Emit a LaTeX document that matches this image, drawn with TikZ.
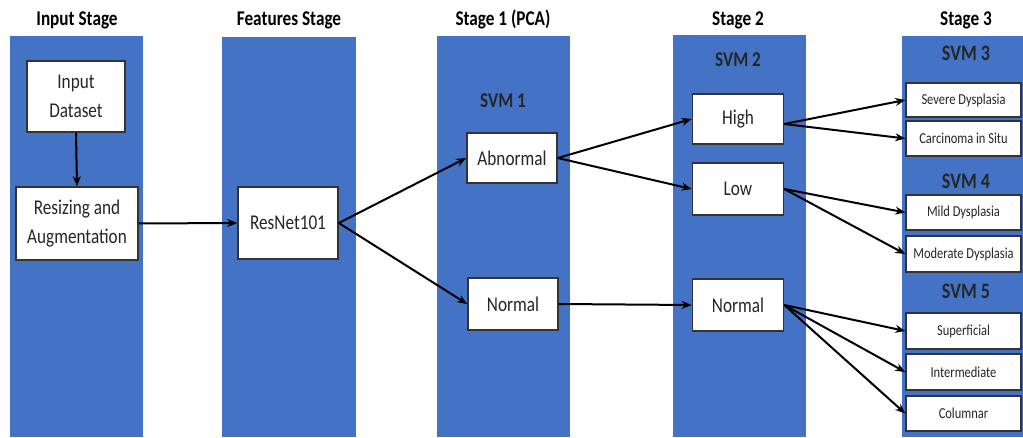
\documentclass[tikz,border=0pt]{standalone}
\usepackage{fontspec}
\setmainfont{Carlito}
\usetikzlibrary{arrows.meta}
\definecolor{colblue}{RGB}{68,114,196}
\definecolor{inktext}{RGB}{38,38,38}
% slightly condensed lettering
\newcommand\nx[1]{\scalebox{0.86}[1.05]{#1}}
\tikzset{
  column/.style={fill=colblue, draw=none},
  heading/.style={anchor=base, font=\fontsize{20}{24}\selectfont\bfseries, text=black, inner sep=0pt},
  svmlabel/.style={font=\fontsize{20}{24}\selectfont\bfseries, text=black!85, inner sep=0pt},
  bigbox/.style={draw=black!80, line width=1.6pt, fill=white, align=center, inner sep=0pt,
    text=inktext, font=\fontsize{20}{29}\selectfont},
  smallbox/.style={draw=black!80, line width=1.5pt, fill=white, inner sep=0pt,
    minimum width=115pt, text=inktext, font=\fontsize{14.5}{17}\selectfont},
  link/.style={line width=2pt, -{Stealth[length=10pt,width=8pt]}}
}
\begin{document}
\begin{tikzpicture}[x=1pt,y=-1pt]
\useasboundingbox (0,0) rectangle (1023,438);
\fill[white] (0,0) rectangle (1023,438);

% stage columns
\fill[column] (10,36) rectangle (143,437);
\fill[column] (222,37) rectangle (356,437);
\fill[column] (437,36) rectangle (570,437);
\fill[column] (673,35) rectangle (806,437);
\fill[column] (902,36) rectangle (1023,437);

% headings
\node[heading] (h1) at (77,26) {\nx{Input Stage}};
\node[heading] (h2) at (289,26) {\nx{Features Stage}};
\node[heading] (h3) at (503,26) {\nx{Stage 1 (PCA)}};
\node[heading] (h4) at (738,26) {\nx{Stage 2}};
\node[heading] (h5) at (966,26) {\nx{Stage 3}};

% input and feature stages
\node[bigbox, minimum width=98pt, minimum height=71pt] (inp) at (76,96.5) {\nx{Input}\\\nx{Dataset}};
\node[bigbox, minimum width=122pt, minimum height=73pt] (rsz) at (77,223.5) {\nx{Resizing and}\\\nx{Augmentation}};
\node[bigbox, minimum width=100pt, minimum height=72pt] (res) at (288,223) {\nx{ResNet101}};

% stage 1
\node[svmlabel] (svm1) at (503,101) {\nx{SVM 1}};
\node[bigbox, minimum width=90pt, minimum height=50pt] (abn) at (512,158) {\nx{Abnormal}};
\node[bigbox, minimum width=90pt, minimum height=52pt] (nor1) at (513,304) {\nx{Normal}};

% stage 2
\node[svmlabel] (svm2) at (738,60) {\nx{SVM 2}};
\node[bigbox, minimum width=91pt, minimum height=50pt] (high) at (738,119) {\nx{High}};
\node[bigbox, minimum width=91pt, minimum height=52pt] (low) at (738,189) {\nx{Low}};
\node[bigbox, minimum width=91pt, minimum height=52pt] (nor2) at (738,305) {\nx{Normal}};

% stage 3
\node[svmlabel, font=\fontsize{21}{24}\selectfont\bfseries] (svm3) at (966,53) {\nx{SVM 3}};
\node[smallbox, minimum height=34pt] (sev) at (963.5,100) {\nx{Severe Dysplasia}};
\node[smallbox, minimum height=35pt] (car) at (963.5,138.5) {\nx{Carcinoma in Situ}};
\node[svmlabel, font=\fontsize{21}{24}\selectfont\bfseries] (svm4) at (966,181) {\nx{SVM 4}};
\node[smallbox, minimum height=35pt] (mild) at (963.5,212.5) {\nx{Mild Dysplasia}};
\node[smallbox, minimum height=36pt] (mod) at (963.5,254) {\nx{Moderate Dysplasia}};
\node[svmlabel, font=\fontsize{21}{24}\selectfont\bfseries] (svm5) at (966,291) {\nx{SVM 5}};
\node[smallbox, minimum height=36pt] (sup) at (963.5,331) {\nx{Superficial}};
\node[smallbox, minimum height=36pt] (int) at (963.5,372) {\nx{Intermediate}};
\node[smallbox, minimum height=35pt] (col) at (963.5,413.5) {\nx{Columnar}};

% connectors
\draw[link] (inp.south) -- (rsz.north);
\draw[link] (rsz.east) -- (res.west);
\draw[link] (res.east) -- (abn.west);
\draw[link] (res.east) -- (nor1.west);
\draw[link] (abn.east) -- (high.west);
\draw[link] (abn.east) -- (low.west);
\draw[link] (nor1.east) -- (nor2.west);
\draw[link] ([yshift=-5pt]high.east) -- (sev.west);
\draw[link] ([yshift=-5pt]high.east) -- (car.west);
\draw[link] (low.east) -- (mild.west);
\draw[link] (low.east) -- (mod.west);
\draw[link] (nor2.east) -- (sup.west);
\draw[link] (nor2.east) -- (int.west);
\draw[link] (nor2.east) -- (col.west);
\end{tikzpicture}
\end{document}
